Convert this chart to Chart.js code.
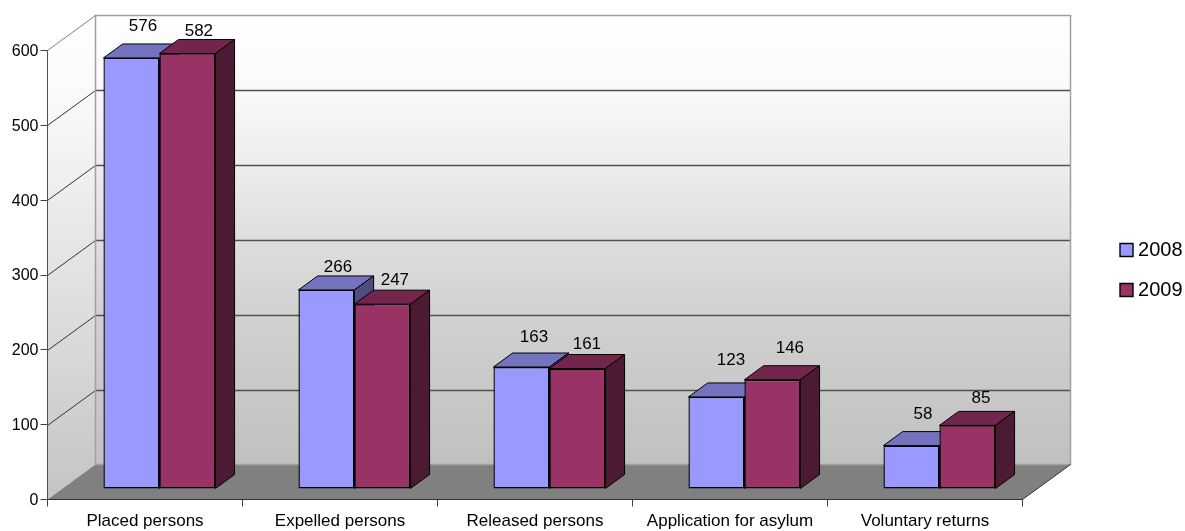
<!DOCTYPE html>
<html>
<head>
<meta charset="utf-8">
<style>
  html, body { margin: 0; padding: 0; background: #fff; }
  canvas { display: block; }
</style>
<script src="https://cdn.jsdelivr.net/npm/chart.js@4/dist/chart.umd.js"></script>
</head>
<body>
<canvas id="chart" width="1185" height="531"></canvas>
<script>
const categories = ['Placed persons', 'Expelled persons', 'Released persons', 'Application for asylum', 'Voluntary returns'];
const values2008 = [576, 266, 163, 123, 58];
const values2009 = [582, 247, 161, 146, 85];

// the value labels sit loosely above the bars in the original
const labelNudge2008 = [[11.5, -31.5], [11.5, -22.5], [12.5, -29.5], [14.5, -36.5], [11.5, -31.5]];
const labelNudge2009 = [[11.5, -22.5], [12.5, -23.5], [9.5, -24.5], [17.5, -31.5], [13.5, -27.5]];

// depth of the box the chart stands in
const depthX = 48;
const depthY = 35;
const barDepth = 0.4;
const barInset = 0.3;

const walls = {
    id: 'walls',
    beforeDraw(chart) {
        const ctx = chart.ctx;
        const y = chart.scales.y;
        const { left, right, top, bottom } = chart.chartArea;

        // left wall
        let grad = ctx.createLinearGradient(0, top - depthY, 0, bottom);
        grad.addColorStop(0, '#ffffff');
        grad.addColorStop(0.2, '#f8f8f8');
        grad.addColorStop(1, '#c4c4c4');
        ctx.fillStyle = grad;
        ctx.beginPath();
        ctx.moveTo(left, top);
        ctx.lineTo(left + depthX, top - depthY);
        ctx.lineTo(left + depthX, bottom - depthY);
        ctx.lineTo(left, bottom);
        ctx.closePath();
        ctx.fill();

        // back wall
        grad = ctx.createLinearGradient(0, top - depthY, 0, bottom - depthY);
        grad.addColorStop(0, '#ffffff');
        grad.addColorStop(0.167, '#f9f9f9');
        grad.addColorStop(0.333, '#ededed');
        grad.addColorStop(0.5, '#dedede');
        grad.addColorStop(0.667, '#d1d1d1');
        grad.addColorStop(1, '#c0c0c0');
        ctx.fillStyle = grad;
        ctx.fillRect(left + depthX, top - depthY, right - left, bottom - top);

        // floor
        ctx.fillStyle = '#808080';
        ctx.beginPath();
        ctx.moveTo(left, bottom);
        ctx.lineTo(left + depthX, bottom - depthY);
        ctx.lineTo(right + depthX, bottom - depthY);
        ctx.lineTo(right, bottom);
        ctx.closePath();
        ctx.fill();

        // grid lines run along the left wall and the back wall
        y.ticks.forEach(t => {
            const py = Math.round(y.getPixelForValue(t.value)) + 0.5;
            if (t.value === 0 || t.value === 600) return;
            ctx.lineWidth = 1;
            ctx.strokeStyle = '#333333';
            ctx.beginPath();
            ctx.moveTo(left, py);
            ctx.lineTo(left + depthX, py - depthY);
            ctx.stroke();
            ctx.lineWidth = 1.3;
            ctx.strokeStyle = '#505050';
            ctx.beginPath();
            ctx.moveTo(left + depthX, py - depthY);
            ctx.lineTo(right + depthX, py - depthY);
            ctx.stroke();
        });

        // outline of the walls
        ctx.strokeStyle = '#a0a0a0';
        ctx.lineWidth = 1.5;
        ctx.strokeRect(left + depthX, top - depthY, right - left, bottom - top);
        ctx.lineWidth = 1;
        ctx.strokeStyle = '#808080';
        ctx.beginPath();
        ctx.moveTo(left, top);
        ctx.lineTo(left + depthX, top - depthY);
        ctx.stroke();
        ctx.strokeStyle = '#303030';
        ctx.beginPath();
        ctx.moveTo(right, bottom);
        ctx.lineTo(right + depthX, bottom - depthY);
        ctx.stroke();
    }
};

function drawFace(ctx, points, fill) {
    ctx.fillStyle = fill;
    ctx.strokeStyle = '#000000';
    ctx.lineWidth = 1;
    ctx.beginPath();
    points.forEach((p, i) => i ? ctx.lineTo(p[0], p[1]) : ctx.moveTo(p[0], p[1]));
    ctx.closePath();
    ctx.fill();
    ctx.stroke();
}

const bars3d = {
    id: 'bars3d',
    beforeDatasetsDraw(chart) {
        const ctx = chart.ctx;
        const dx = depthX * barDepth;
        const dy = depthY * barDepth;

        // bars stand in the middle of the floor, not on its front edge
        ctx.save();
        ctx.translate(depthX * barInset, -depthY * barInset);

        categories.forEach((c, i) => {
            chart.data.datasets.forEach((ds, d) => {
                const bar = chart.getDatasetMeta(d).data[i];
                const l = bar.x - bar.width / 2;
                const r = bar.x + bar.width / 2;
                drawFace(ctx, [[l, bar.y], [l + dx, bar.y - dy], [r + dx, bar.y - dy], [r, bar.y]], ds.topColor);
                drawFace(ctx, [[r, bar.y], [r + dx, bar.y - dy], [r + dx, bar.base - dy], [r, bar.base]], ds.sideColor);
            });
        });
    },
    afterDatasetsDraw(chart) {
        const ctx = chart.ctx;
        ctx.restore();

        ctx.fillStyle = '#000000';
        ctx.font = '17px "Liberation Sans"';
        ctx.textAlign = 'center';
        ctx.textBaseline = 'middle';
        chart.data.datasets.forEach((ds, d) => {
            chart.getDatasetMeta(d).data.forEach((bar, i) => {
                const px = bar.x + depthX * barInset + ds.nudge[i][0];
                const py = bar.y - depthY * barInset + ds.nudge[i][1];
                ctx.fillText(ds.data[i], px, py);
            });
        });
    }
};

// legend sits higher up than Chart.js would put it
const legendPlace = {
    id: 'legendPlace',
    afterLayout(chart) {
        const legend = chart.legend;
        legend.left = 1100;
        legend.right = 1182.5;
        legend.top = 220;
        legend.bottom = 340;
    }
};

Chart.defaults.font.family = '"Liberation Sans"';
Chart.defaults.color = '#000000';

new Chart(document.getElementById('chart').getContext('2d'), {
    type: 'bar',
    data: {
        labels: categories,
        datasets: [
            { label: '2008', data: values2008, nudge: labelNudge2008, backgroundColor: '#9999ff', topColor: '#7373bf', sideColor: '#4d4d80', borderColor: '#000000', borderWidth: 1.4, borderSkipped: false },
            { label: '2009', data: values2009, nudge: labelNudge2009, backgroundColor: '#993366', topColor: '#73264d', sideColor: '#4d1a33', borderColor: '#000000', borderWidth: 1.4, borderSkipped: false }
        ]
    },
    plugins: [walls, bars3d, legendPlace],
    options: {
        responsive: false,
        animation: false,
        clip: false,
        categoryPercentage: 0.574,
        barPercentage: 1,
        layout: { padding: { top: 50.5, right: 65, bottom: 0, left: 0 } },
        plugins: {
            tooltip: { enabled: false },
            legend: {
                position: 'right',
                align: 'start',
                fullSize: false,
                onClick: null,
                labels: { boxWidth: 13, boxHeight: 13, padding: 20, font: { size: 20 }, textAlign: 'right', color: '#000000' }
            }
        },
        scales: {
            x: {
                afterFit(scale) { scale.height = 31.5; },
                border: { color: '#303030', width: 1 },
                grid: { drawOnChartArea: false, offset: true, tickLength: 7, tickColor: '#404040' },
                ticks: { font: { size: 17 }, padding: 5, maxRotation: 0, autoSkip: false }
            },
            y: {
                min: 0,
                max: 600,
                afterFit(scale) { scale.width = 47.5; },
                border: { color: '#505050', width: 1 },
                grid: { drawOnChartArea: false, tickLength: 7, tickColor: '#404040' },
                ticks: { stepSize: 100, font: { size: 16 }, padding: 2, labelOffset: 1 }
            }
        }
    }
});
</script>
</body>
</html>
